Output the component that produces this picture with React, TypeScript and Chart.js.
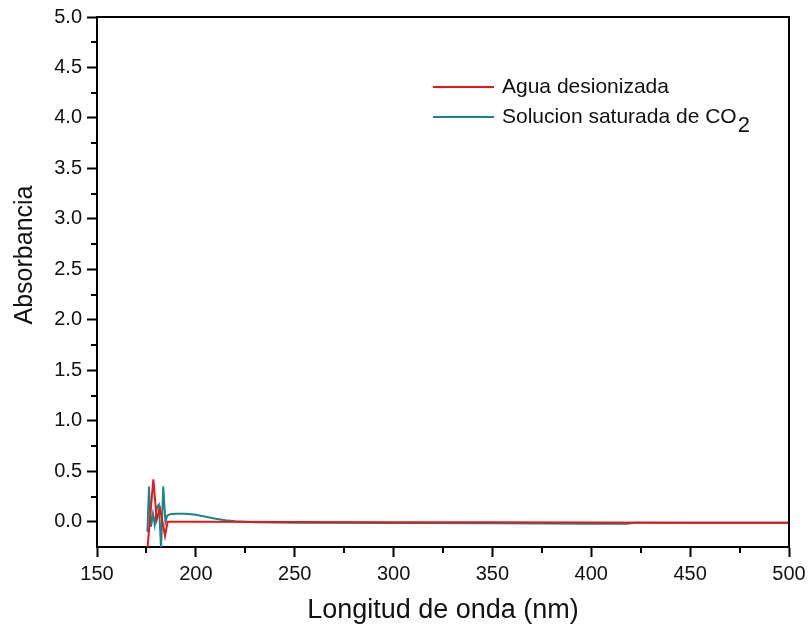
import React, { useEffect, useRef } from "react";
import { Chart, registerables } from "chart.js";

Chart.register(...registerables);

// Data
const aguaLabel = "Agua desionizada";
const aguaX = [175.5, 178.5, 180.2, 181.9, 184.4, 185.7, 200, 250, 300, 350, 400, 450, 500];
const aguaY = [-0.27, 0.42, 0.02, 0.13, -0.14, 0.0, 0.0, -0.002, -0.004, -0.006, -0.008, -0.01, -0.01];

const co2Label = "Solucion saturada de CO₂";
const co2X = [175.5, 176.3, 177.3, 178.3, 179.2, 180.4, 181.3, 182.4, 183.5, 184.6, 185.5, 187, 190, 195, 200, 205, 210, 215, 220, 230, 250, 300, 350, 400, 418, 422, 450, 500];
const co2Y = [-0.1, 0.35, -0.05, 0.08, -0.03, 0.15, 0.17, -0.26, 0.35, 0.0, 0.06, 0.075, 0.08, 0.08, 0.07, 0.05, 0.03, 0.015, 0.005, -0.005, -0.01, -0.012, -0.015, -0.02, -0.02, -0.01, -0.01, -0.01];

const xTicks = [150, 200, 250, 300, 350, 400, 450, 500];
const xMinorTicks = [175, 225, 275, 325, 375, 425, 475];
const yTicks = [0, 0.5, 1.0, 1.5, 2.0, 2.5, 3.0, 3.5, 4.0, 4.5, 5.0];
const yMinorTicks = [0.25, 0.75, 1.25, 1.75, 2.25, 2.75, 3.25, 3.75, 4.25, 4.75];

const xTitle = "Longitud de onda (nm)";
const yTitle = "Absorbancia";

const FONT = "'Liberation Sans', Arial, sans-serif";
const TEXT = "#111";

const framePlugin = {
  id: "frameAndExtras",
  afterDraw(chart: any) {
    const { ctx, chartArea } = chart;
    const { left, right, top, bottom } = chartArea;
    const xs = chart.scales.x;
    const ys = chart.scales.y;
    ctx.save();
    ctx.strokeStyle = "#000";
    ctx.lineWidth = 2;
    // top and right frame
    ctx.beginPath();
    ctx.moveTo(left, top);
    ctx.lineTo(right, top);
    ctx.lineTo(right, bottom);
    ctx.stroke();
    // minor ticks
    ctx.beginPath();
    for (const v of xMinorTicks) {
      const px = Math.round(xs.getPixelForValue(v));
      ctx.moveTo(px, bottom);
      ctx.lineTo(px, bottom + 6);
    }
    for (const v of yMinorTicks) {
      const py = Math.round(ys.getPixelForValue(v));
      ctx.moveTo(left - 6, py);
      ctx.lineTo(left, py);
    }
    ctx.stroke();

    // y title
    ctx.fillStyle = TEXT;
    ctx.font = `25px ${FONT}`;
    ctx.textAlign = "center";
    ctx.textBaseline = "middle";
    ctx.save();
    ctx.translate(25, 255);
    ctx.rotate(-Math.PI / 2);
    ctx.fillText(yTitle, 0, 0);
    ctx.restore();

    // legend
    ctx.font = `21px ${FONT}`;
    ctx.textAlign = "left";
    ctx.textBaseline = "middle";
    chart.data.datasets.forEach((ds: any, i: number) => {
      const y = 87 + i * 30;
      ctx.strokeStyle = ds.borderColor;
      ctx.lineWidth = 2;
      ctx.beginPath();
      ctx.moveTo(433, y);
      ctx.lineTo(494, y);
      ctx.stroke();
      ctx.fillStyle = TEXT;
      const label: string = ds.label;
      if (label.endsWith("₂")) {
        const main = label.slice(0, -1);
        ctx.fillText(main, 502, y);
        const w = ctx.measureText(main).width;
        ctx.font = `22px ${FONT}`;
        ctx.fillText("2", 502 + w + 1, y + 9);
        ctx.font = `21px ${FONT}`;
      } else {
        ctx.fillText(label, 502, y);
      }
    });
    ctx.restore();
  },
};

export default function App() {
  const ref = useRef<HTMLCanvasElement | null>(null);

  useEffect(() => {
    if (!ref.current) return;
    const chart = new Chart(ref.current, {
      type: "line",
      data: {
        datasets: [
          {
            label: aguaLabel,
            data: aguaX.map((x, i) => ({ x, y: aguaY[i] })),
            borderColor: "#e8161b",
            borderWidth: 2,
            pointRadius: 0,
            tension: 0,
            fill: false,
          },
          {
            label: co2Label,
            data: co2X.map((x, i) => ({ x, y: co2Y[i] })),
            borderColor: "#17878a",
            borderWidth: 2,
            pointRadius: 0,
            tension: 0,
            fill: false,
          },
        ],
      },
      options: {
        animation: false,
        responsive: false,
        maintainAspectRatio: false,
        devicePixelRatio: 1,
        layout: { padding: { top: 16, right: 23, left: 0, bottom: 0 } },
        plugins: {
          legend: { display: false },
          tooltip: { enabled: false },
        },
        scales: {
          x: {
            type: "linear",
            min: 150,
            max: 500,
            afterBuildTicks: (s: any) => {
              s.ticks = xTicks.map((v) => ({ value: v }));
            },
            afterFit: (s: any) => {
              s.height = 83;
            },
            ticks: {
              color: TEXT,
              font: { family: FONT, size: 20 },
              padding: 5,
              maxRotation: 0,
              autoSkip: false,
              callback: (v: any) => String(v),
            },
            grid: {
              display: true,
              drawOnChartArea: false,
              drawTicks: true,
              tickLength: 10,
              tickWidth: 2,
              tickColor: "#000",
            },
            border: { display: true, color: "#000", width: 2 },
            title: {
              display: true,
              text: xTitle,
              color: TEXT,
              font: { family: FONT, size: 27 },
              padding: { top: 0, bottom: 3 },
            },
          },
          y: {
            type: "linear",
            min: -0.25,
            max: 5.0,
            afterBuildTicks: (s: any) => {
              s.ticks = yTicks.map((v) => ({ value: v }));
            },
            afterFit: (s: any) => {
              s.width = 97;
            },
            ticks: {
              color: TEXT,
              font: { family: FONT, size: 20 },
              padding: 5,
              autoSkip: false,
              callback: (v: any) => Number(v).toFixed(1),
            },
            grid: {
              display: true,
              drawOnChartArea: false,
              drawTicks: true,
              tickLength: 10,
              tickWidth: 2,
              tickColor: "#000",
            },
            border: { display: true, color: "#000", width: 2 },
          },
        },
      },
      plugins: [framePlugin],
    });
    return () => chart.destroy();
  }, []);

  return (
    <div style={{ position: "absolute", left: 0, top: 0, width: 812, height: 630, background: "#fff" }}>
      <canvas ref={ref} width={812} height={630} style={{ width: 812, height: 630, display: "block" }} />
    </div>
  );
}
